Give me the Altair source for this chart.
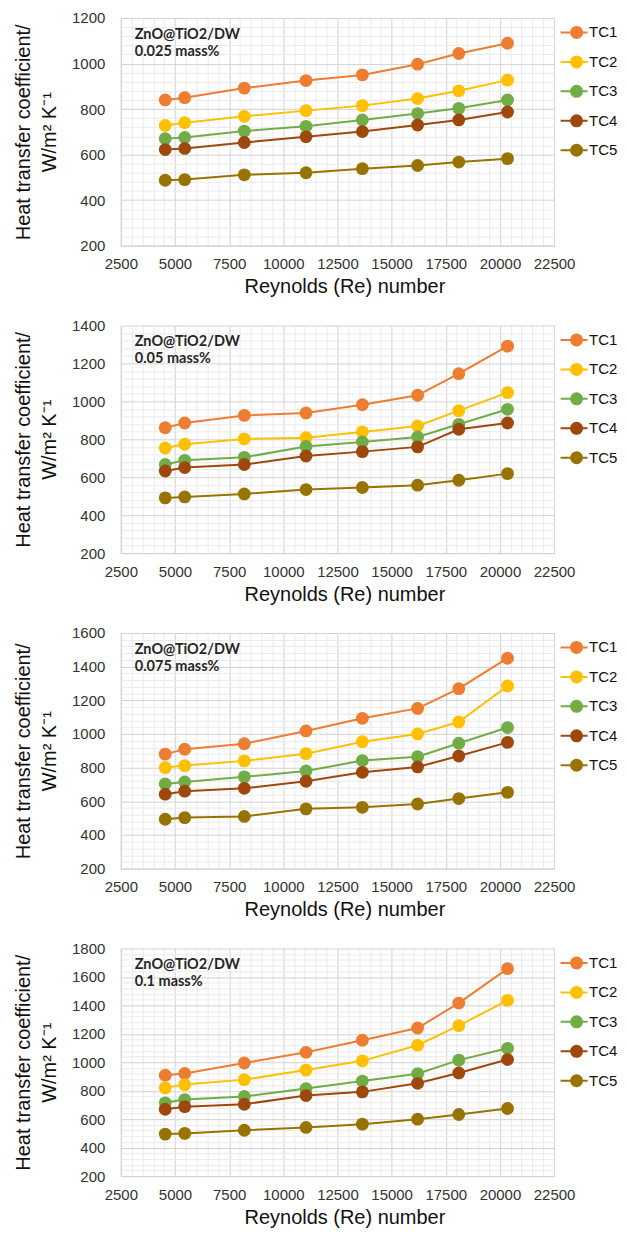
import altair as alt
import pandas as pd

re_numbers = [4550, 5450, 8200, 11050, 13650, 16200, 18100, 20350]
series_names = ["TC1", "TC2", "TC3", "TC4", "TC5"]
series_colors = ["#ED7D31", "#FFC000", "#70AD47", "#9E480E", "#997300"]
material = "ZnO@TiO2/DW"
concentrations = ["0.025 mass%", "0.05 mass%", "0.075 mass%", "0.1 mass%"]
y_max = [1200, 1400, 1600, 1800]
x_title = "Reynolds (Re) number"
y_title = ["Heat transfer coefficient/", "W/m\u00b2 K\u207b\u00b9"]

# 0.025 mass%
p1_tc1 = [840, 850, 892, 925, 950, 997, 1044, 1089]
p1_tc2 = [728, 740, 768, 793, 815, 846, 880, 927]
p1_tc3 = [670, 675, 703, 724, 752, 780, 803, 840]
p1_tc4 = [622, 627, 653, 678, 701, 730, 752, 787]
p1_tc5 = [487, 490, 511, 520, 538, 552, 567, 582]
# 0.05 mass%
p2_tc1 = [861, 886, 926, 939, 982, 1032, 1146, 1291]
p2_tc2 = [754, 774, 802, 808, 839, 870, 951, 1046]
p2_tc3 = [667, 689, 705, 762, 786, 812, 879, 958]
p2_tc4 = [633, 651, 667, 712, 735, 760, 853, 886]
p2_tc5 = [491, 496, 512, 535, 546, 558, 584, 619]
# 0.075 mass%
p3_tc1 = [880, 909, 942, 1018, 1093, 1152, 1269, 1450]
p3_tc2 = [800, 812, 840, 883, 954, 1000, 1071, 1285]
p3_tc3 = [703, 715, 745, 780, 842, 865, 945, 1038]
p3_tc4 = [642, 660, 677, 719, 772, 804, 869, 950]
p3_tc5 = [493, 503, 510, 555, 564, 584, 616, 653]
# 0.1 mass%
p4_tc1 = [909, 921, 995, 1070, 1155, 1241, 1416, 1658]
p4_tc2 = [820, 843, 878, 945, 1010, 1120, 1257, 1435]
p4_tc3 = [715, 738, 760, 815, 868, 920, 1015, 1098]
p4_tc4 = [670, 688, 705, 766, 792, 852, 925, 1019]
p4_tc5 = [495, 500, 522, 542, 565, 600, 633, 675]

panels = [
    [p1_tc1, p1_tc2, p1_tc3, p1_tc4, p1_tc5],
    [p2_tc1, p2_tc2, p2_tc3, p2_tc4, p2_tc5],
    [p3_tc1, p3_tc2, p3_tc3, p3_tc4, p3_tc5],
    [p4_tc1, p4_tc2, p4_tc3, p4_tc4, p4_tc5],
]
heights = [228, 228, 236, 228]

MAJOR = "#d2d2d2"
MINOR = "#eaeaea"
FONT = "Liberation Sans"
PLOT_W = 434

color_expr = ""
for n, c in zip(series_names[:-1], series_colors[:-1]):
    color_expr += f"datum.value === '{n}' ? '{c}' : "
color_expr += f"'{series_colors[-1]}'"

# legend glyph: short line through a filled circle (unit scale = 5 px)
LEG_PATH = "M -3.2 0 L 2.2 0 M -1.1 0 A 1.1 1.1 0 1 0 1.1 0 A 1.1 1.1 0 1 0 -1.1 0 Z"


def make_panel(i):
    rows = []
    for name, vals in zip(series_names, panels[i]):
        for r, v in zip(re_numbers, vals):
            rows.append({"Re": r, "h": v, "series": name})
    df = pd.DataFrame(rows)

    x_vals = list(range(2500, 22501, 500))
    y_vals = list(range(200, y_max[i] + 1, 40))

    x = alt.X(
        "Re:Q",
        scale=alt.Scale(domain=[2500, 22500], nice=False, zero=False),
        axis=alt.Axis(
            values=x_vals,
            labelExpr="datum.value % 2500 === 0 ? format(datum.value, 'd') : ''",
            labelOverlap=False,
            labelFlush=False,
            gridColor={"condition": {"test": "datum.value % 2500 === 0", "value": MAJOR}, "value": MINOR},
            title=x_title,
            titleX=PLOT_W / 2 + 7,
            titlePadding=5,
            labelPadding=11,
        ),
    )
    y = alt.Y(
        "h:Q",
        scale=alt.Scale(domain=[200, y_max[i]], nice=False, zero=False),
        axis=alt.Axis(
            values=y_vals,
            labelExpr="datum.value % 200 === 0 ? format(datum.value, 'd') : ''",
            labelOverlap=False,
            labelFlush=False,
            gridColor={"condition": {"test": "datum.value % 200 === 0", "value": MAJOR}, "value": MINOR},
            title=y_title,
            titlePadding=12,
            labelPadding=16,
            titleLineHeight=26,
        ),
    )
    color = alt.Color(
        "series:N",
        scale=alt.Scale(domain=series_names, range=series_colors),
        legend=alt.Legend(
            title=None,
            orient="none",
            legendX=PLOT_W + 15,
            legendY=7,
            symbolType=LEG_PATH,
            symbolSize=100,
            symbolStrokeWidth=2,
            symbolStrokeColor={"expr": color_expr},
            symbolFillColor={"expr": color_expr},
            symbolOpacity=1,
            labelFontSize=15,
            labelFont=FONT,
            labelColor="#111111",
            labelOffset=5,
            rowPadding=10.5,
        ),
    )
    base = alt.Chart(df)
    lines = base.mark_line(strokeWidth=2).encode(x=x, y=y, color=color, detail="series:N")
    pts = base.mark_point(filled=True, size=165, opacity=1, shape="circle").encode(x=x, y=y, color=color)
    note = alt.Chart(alt.Data(values=[{"k": 1}])).mark_text(
        align="left", baseline="top", font="Lato", fontWeight="bold", fontSize=14.5,
        color="#262626", lineHeight=17,
    ).encode(x=alt.value(14), y=alt.value(10), text=alt.value([material, concentrations[i]]))
    return alt.layer(lines, pts, note).properties(width=PLOT_W, height=heights[i])


chart = alt.vconcat(*[make_panel(i) for i in range(4)], spacing=80, bounds="flush").resolve_scale(
    color="independent"
).resolve_legend(color="independent").properties(
    padding={"left": 5, "top": 2, "right": 0, "bottom": 0}
).configure_axis(
    labelFont=FONT,
    labelFontSize=15,
    labelColor="#333333",
    titleFont=FONT,
    titleFontSize=20,
    titleFontWeight="normal",
    titleColor="#111111",
    ticks=False,
    domainColor=MAJOR,
    grid=True,
).configure_view(stroke=None)

chart.save("out.html", embed_options={"renderer": "svg", "actions": False})
